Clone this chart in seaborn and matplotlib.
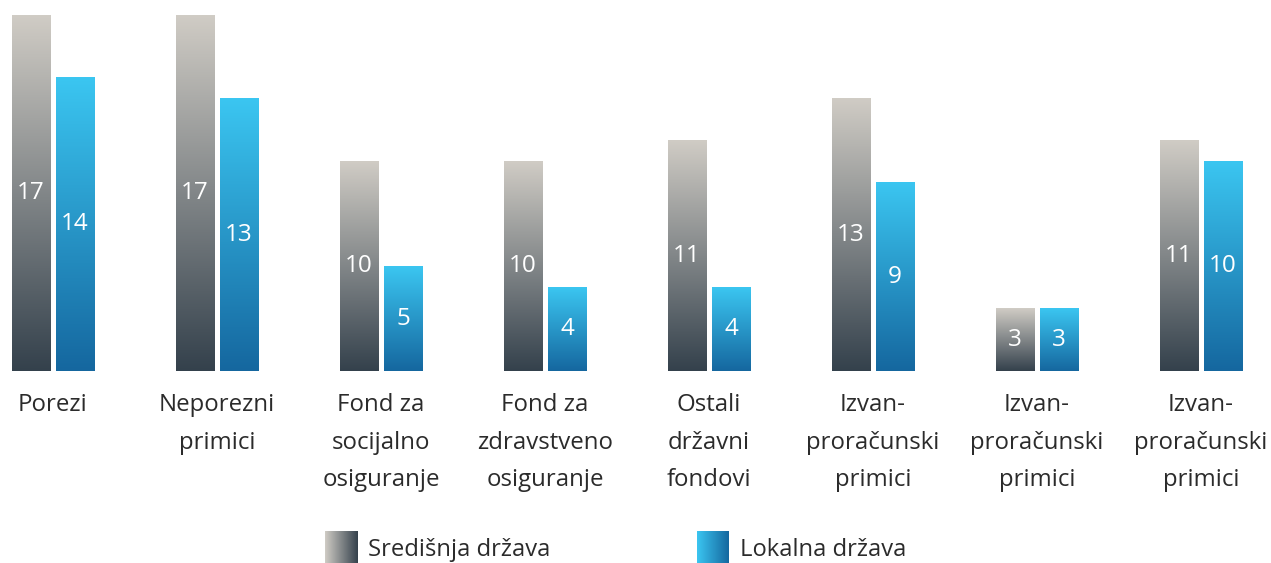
import numpy as np
import pandas as pd
import matplotlib
matplotlib.use('Agg')
import matplotlib.pyplot as plt
from matplotlib.colors import LinearSegmentedColormap
import seaborn as sns

# data
categories = ['Porezi', 'Neporezni\nprimici', 'Fond za\nsocijalno\nosiguranje',
              'Fond za\nzdravstveno\nosiguranje', 'Ostali\ndržavni\nfondovi',
              'Izvan-\nproračunski\nprimici', 'Izvan-\nproračunski\nprimici',
              'Izvan-\nproračunski\nprimici']
central = [17, 17, 10, 10, 11, 13, 3, 11]
local = [14, 13, 5, 4, 4, 9, 3, 10]
series = ['Središnja država', 'Lokalna država']

df = pd.DataFrame({
    'pos': list(range(len(categories))) * 2,
    'value': central + local,
    'series': [series[0]] * len(central) + [series[1]] * len(local),
})

sns.set_style('white')
plt.rcParams['font.family'] = ['Open Sans', 'DejaVu Sans']

gray_cmap = LinearSegmentedColormap.from_list('g', ['#34414c', '#d0ccc5'])
blue_cmap = LinearSegmentedColormap.from_list('b', ['#15679f', '#3bc6f1'])
cmaps = [gray_cmap, blue_cmap]

fig = plt.figure(figsize=(12.71, 5.63), dpi=100)
ax = fig.add_axes([0, 192 / 563, 1, 356 / 563])

sns.barplot(data=df, x='pos', y='value', hue='series', hue_order=series,
            width=0.5366, gap=0.136, palette=['#888888', '#2a9fd6'],
            legend=False, ax=ax)

# vertical gradient per bar
grad = np.linspace(0, 1, 256).reshape(-1, 1)
for cont, cmap in zip(ax.containers, cmaps):
    for p in cont:
        x0, w, h = p.get_x(), p.get_width(), p.get_height()
        ax.imshow(grad, extent=[x0, x0 + w, 0, h], origin='lower',
                  cmap=cmap, aspect='auto', zorder=2)
        p.set_visible(False)
    ax.bar_label(cont, label_type='center', color='white', fontsize=17.5, zorder=4)

ax.set_xlim(-53 / 164, (1271 - 53) / 164)
ax.set_ylim(0, 17)
ax.set_xticks(range(len(categories)))
ax.set_xticklabels(categories, linespacing=1.75, fontsize=17.3, color='#2b2b2b',
                   va='top')
ax.tick_params(axis='x', length=0, pad=16)
ax.set_yticks([])
ax.set_xlabel('')
ax.set_ylabel('')
sns.despine(ax=ax, left=True, bottom=True)

# legend with horizontal gradient squares
hgrad = np.linspace(0, 1, 256).reshape(1, -1)
leg_x = [325, 697]
for lx, cmap, name in zip(leg_x, cmaps, series):
    lax = fig.add_axes([lx / 1271, 0, 32 / 1271, 32 / 563])
    lax.imshow(hgrad[:, ::-1], cmap=cmap, aspect='auto')
    lax.axis('off')
    fig.text((lx + 43) / 1271, 13 / 563, name, fontsize=17.1, color='#2b2b2b',
             va='center', ha='left')

fig.savefig('out.png', dpi=100)
